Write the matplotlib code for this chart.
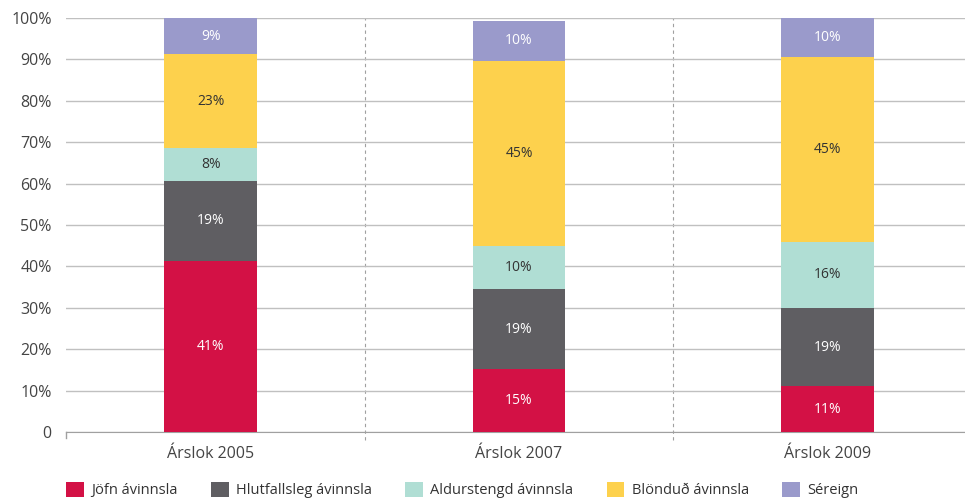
import matplotlib.pyplot as plt
import numpy as np

plt.rcParams['font.family'] = ['Open Sans', 'DejaVu Sans']

# gögn
years = ['Árslok 2005', 'Árslok 2007', 'Árslok 2009']
series = ['Jöfn ávinnsla', 'Hlutfallsleg ávinnsla', 'Aldurstengd ávinnsla',
          'Blönduð ávinnsla', 'Séreign']
jofn = [41.3, 15.2, 11.1]
hlutfallsleg = [19.4, 19.4, 18.9]
aldurstengd = [7.9, 10.4, 15.9]
blondud = [22.6, 44.6, 44.6]
sereign = [8.8, 9.7, 9.5]

colors = ['#D31145', '#5F5E62', '#B0DED4', '#FDD14D', '#9A9ACB']
text_colors = ['white', 'white', '#333333', '#333333', 'white']

fig = plt.figure(figsize=(9.65, 4.99), dpi=100)
ax = fig.add_axes([0.068, 0.134, 0.932, 0.830])

x = np.arange(len(years))
bottom = np.zeros(len(years))
for vals, name, c, tc in zip([jofn, hlutfallsleg, aldurstengd, blondud, sereign],
                             series, colors, text_colors):
    vals = np.array(vals)
    ax.bar(x, vals, width=0.30, bottom=bottom, color=c, label=name, zorder=3)
    for xi, b, v in zip(x, bottom, vals):
        ax.text(xi, b + v / 2, f'{v:.0f}%', ha='center', va='center',
                color=tc, fontsize=10, zorder=4)
    bottom += vals

# rammi og ásar
ax.set_xlim(-0.47, 2.446)
ax.set_ylim(0, 100)
ax.set_yticks(range(0, 101, 10))
ax.set_yticklabels(['0'] + [f'{v}%' for v in range(10, 101, 10)])
ax.yaxis.grid(True, color='#c0c0c0', linewidth=1, zorder=0)
ax.set_xticks(x)
ax.set_xticklabels(years)
ax.tick_params(axis='y', length=0, pad=10, labelsize=11.5, labelcolor='#444444')
ax.tick_params(axis='x', length=0, pad=10, labelsize=11.5, labelcolor='#444444')
for s in ['top', 'right', 'left']:
    ax.spines[s].set_visible(False)
ax.spines['bottom'].set_color('#a0a0a0')

for sep in [0.5, 1.5]:
    ax.axvline(sep, ymin=-0.02, ymax=1, color='#a0a0a0', linestyle=(0, (3, 3)),
               linewidth=0.8, clip_on=False, zorder=1)
ax.axvline(-0.47, ymin=-0.015, ymax=0, color='#a0a0a0', linewidth=1, clip_on=False)

fig.legend(loc='lower left', bbox_to_anchor=(0.055, -0.025), ncol=5, frameon=False,
           fontsize=10.5, handlelength=1.2, handleheight=1.2, handletextpad=0.5,
           columnspacing=2.3, labelcolor='#333333')

plt.savefig('out.png', dpi=100)
plt.close()
